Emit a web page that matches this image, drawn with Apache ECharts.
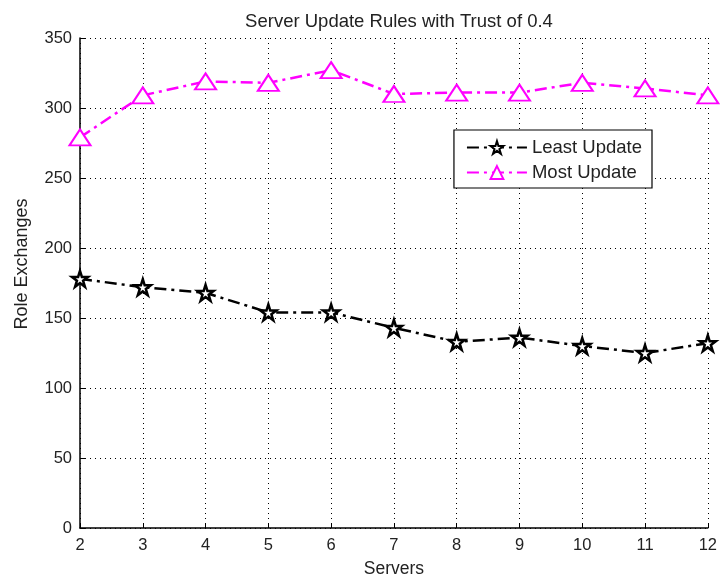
<!DOCTYPE html>
<html>
<head>
<meta charset="utf-8">
<script src="https://cdn.jsdelivr.net/npm/echarts@6/dist/echarts.min.js"></script>
<style>
  html, body { margin: 0; padding: 0; background: #fff; }
  #chart { width: 720px; height: 583px; }
</style>
</head>
<body>
<div id="chart"></div>
<script>
// data
const servers = [2, 3, 4, 5, 6, 7, 8, 9, 10, 11, 12];
const leastUpdate = [178, 172, 168, 154, 154, 143, 133, 136, 130, 125, 132];
const mostUpdate = [279, 309, 319, 318, 327, 310, 311, 311, 318, 314, 309];

const FONT = '"Liberation Sans", Arial, sans-serif';
const STAR = 'path://M100 0 L122.45 69.1 L195.1 69.1 L136.3 111.8 L158.8 180.9 L100 138.2 L41.2 180.9 L63.7 111.8 L4.9 69.1 L77.55 69.1 Z';
const DASHDOT = [12, 5, 3, 5];

function pairs(ys) {
    return servers.map((x, i) => [x, ys[i]]);
}

const chart = echarts.init(document.getElementById('chart'));
const option = {
    animation: false,
    backgroundColor: '#fff',
    title: {
        text: 'Server Update Rules with Trust of 0.4',
        left: 394,
        textAlign: 'center',
        top: 7,
        textStyle: {
            color: '#222',
            fontFamily: FONT,
            fontSize: 18.5,
            fontWeight: 'normal'
        }
    },
    legend: {
        right: 68,
        top: 130,
        orient: 'vertical',
        itemWidth: 60,
        itemHeight: 16,
        itemGap: 6,
        padding: [8, 10, 6, 12],
        backgroundColor: '#fff',
        borderColor: '#000',
        borderWidth: 1.2,
        borderRadius: 0,
        textStyle: {
            color: '#222',
            fontFamily: FONT,
            fontSize: 18.5
        },
        data: ['Least Update', 'Most Update']
    },
    grid: {
        left: 80,
        right: 11,
        top: 38,
        bottom: 51
    },
    xAxis: {
        type: 'value',
        min: 2,
        max: 12,
        interval: 1,
        name: 'Servers',
        nameLocation: 'middle',
        nameGap: 32,
        nameTextStyle: {
            color: '#222',
            fontFamily: FONT,
            fontSize: 17.5
        },
        axisLine: { onZero: false, lineStyle: { color: '#000', width: 1.5 } },
        axisTick: { inside: true, length: 5, lineStyle: { color: '#000' } },
        axisLabel: {
            color: '#222',
            fontFamily: FONT,
            fontSize: 16.5,
            margin: 9
        },
        splitLine: {
            show: true,
            lineStyle: { color: '#000', type: [1, 4], width: 1 }
        }
    },
    yAxis: {
        type: 'value',
        min: 0,
        max: 350,
        interval: 50,
        name: 'Role Exchanges',
        nameLocation: 'middle',
        nameGap: 49,
        nameTextStyle: {
            color: '#222',
            fontFamily: FONT,
            fontSize: 18,
            padding: [0, 0, 0, 38]
        },
        axisLine: { show: true, lineStyle: { color: '#000', width: 1.5 } },
        axisTick: { show: true, inside: true, length: 5, lineStyle: { color: '#000' } },
        axisLabel: {
            color: '#222',
            fontFamily: FONT,
            fontSize: 16.5,
            margin: 8
        },
        splitLine: {
            show: true,
            lineStyle: { color: '#000', type: [1, 4], width: 1 }
        }
    },
    series: [
        {
            name: 'Least Update',
            type: 'line',
            data: pairs(leastUpdate),
            symbol: STAR,
            symbolSize: 16,
            lineStyle: { color: '#000', width: 2.5, type: DASHDOT },
            itemStyle: { color: '#fff', borderColor: '#000', borderWidth: 2.5 }
        },
        {
            name: 'Most Update',
            type: 'line',
            data: pairs(mostUpdate),
            symbol: 'triangle',
            symbolSize: [21, 16],
            lineStyle: { color: '#ff00ff', width: 2.5, type: DASHDOT },
            itemStyle: { color: '#fff', borderColor: '#ff00ff', borderWidth: 2 }
        }
    ]
};
chart.setOption(option);
</script>
</body>
</html>
